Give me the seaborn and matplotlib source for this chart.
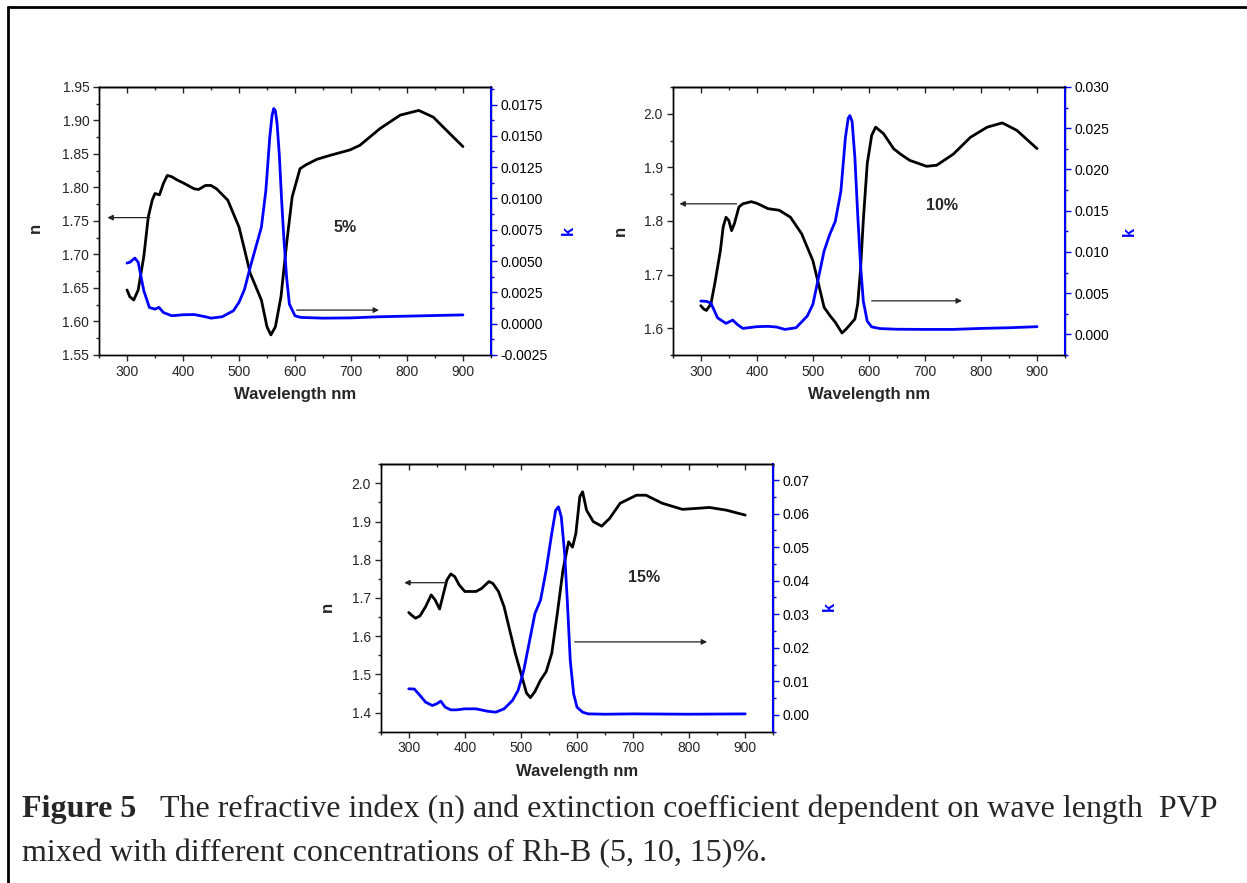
import numpy as np
import pandas as pd
import matplotlib
matplotlib.use("Agg")
import matplotlib.pyplot as plt
import seaborn as sns
from matplotlib.ticker import MultipleLocator, FormatStrFormatter

sns.set_style("white")
plt.rcParams['font.family'] = ['Liberation Sans', 'DejaVu Sans']

# ---------------- data ----------------
# 5 %
wl_n5 = [300, 305, 312, 320, 330, 338, 345, 350, 358, 365, 372, 380, 390, 400, 420, 428, 440, 450, 460, 480,
         500, 510, 520, 530, 540, 550, 557, 565, 575, 585, 595, 609, 620, 639, 663, 698, 716, 752, 788, 821, 847, 877, 900]
n5 = [1.647, 1.637, 1.632, 1.647, 1.697, 1.756, 1.781, 1.791, 1.789, 1.806, 1.818, 1.816, 1.811, 1.807, 1.798, 1.797,
      1.803, 1.803, 1.798, 1.781, 1.741, 1.707, 1.672, 1.652, 1.632, 1.592, 1.580, 1.592, 1.637, 1.716, 1.786, 1.828,
      1.834, 1.842, 1.848, 1.856, 1.863, 1.888, 1.908, 1.915, 1.905, 1.880, 1.861]
wl_k5 = [300, 305, 314, 320, 330, 340, 350, 357, 365, 380, 400, 420, 440, 450, 470, 490, 500, 510, 520, 530, 540,
         548, 555, 559, 562, 565, 568, 572, 576, 580, 585, 590, 600, 610, 650, 700, 750, 800, 850, 900]
k5 = [0.00484, 0.0049, 0.00524, 0.0049, 0.00263, 0.00129, 0.00116, 0.0013, 0.00089, 0.00063, 0.00071, 0.00073,
      0.00055, 0.00044, 0.00055, 0.00103, 0.0017, 0.00276, 0.0045, 0.0061, 0.0077, 0.01064, 0.01491, 0.0166,
      0.01718, 0.0170, 0.0160, 0.0135, 0.0100, 0.0069, 0.0037, 0.00156, 0.00063, 0.0005, 0.00044, 0.00046,
      0.00055, 0.0006, 0.00065, 0.0007]

# 10 %
wl_n10 = [300, 305, 310, 318, 325, 335, 340, 345, 350, 355, 360, 368, 375, 390, 400, 420, 440, 460, 480, 500, 510,
          520, 530, 540, 552, 560, 575, 580, 585, 590, 597, 605, 612, 626, 644, 656, 673, 703, 721, 751, 781, 811,
          838, 864, 900]
n10 = [1.642, 1.636, 1.633, 1.645, 1.683, 1.745, 1.789, 1.807, 1.801, 1.782, 1.795, 1.826, 1.832, 1.836, 1.833,
       1.823, 1.820, 1.807, 1.776, 1.726, 1.683, 1.639, 1.624, 1.611, 1.591, 1.599, 1.617, 1.645, 1.708, 1.801,
       1.907, 1.960, 1.975, 1.963, 1.935, 1.925, 1.913, 1.902, 1.904, 1.925, 1.956, 1.975, 1.983, 1.969, 1.935]
wl_k10 = [300, 310, 318, 330, 345, 357, 365, 375, 400, 420, 435, 450, 470, 490, 500, 510, 520, 530, 540, 550, 558,
          563, 566, 570, 575, 580, 585, 590, 597, 605, 620, 650, 700, 750, 800, 850, 900]
k10 = [0.00404, 0.0040, 0.0038, 0.0020, 0.00133, 0.00173, 0.00121, 0.00072, 0.00093, 0.00097, 0.00089, 0.0006,
       0.0008, 0.00222, 0.00363, 0.00686, 0.0101, 0.0121, 0.0137, 0.01736, 0.02382, 0.0262, 0.02653, 0.02584,
       0.0214, 0.01453, 0.00848, 0.00404, 0.00160, 0.0009, 0.0007, 0.00062, 0.0006, 0.0006, 0.00072, 0.0008,
       0.00093]

# 15 %
wl_n15 = [300, 305, 312, 320, 330, 340, 347, 355, 362, 368, 375, 382, 390, 400, 420, 430, 443, 450, 460, 470, 480,
          490, 500, 510, 517, 525, 535, 545, 555, 565, 575, 585, 592, 598, 605, 610, 617, 629, 644, 658, 677, 706,
          723, 752, 788, 818, 836, 866, 900]
n15 = [1.662, 1.655, 1.647, 1.653, 1.677, 1.708, 1.695, 1.671, 1.712, 1.747, 1.763, 1.756, 1.734, 1.717, 1.717,
       1.725, 1.743, 1.738, 1.717, 1.677, 1.616, 1.555, 1.503, 1.451, 1.439, 1.455, 1.485, 1.507, 1.555, 1.660,
       1.773, 1.847, 1.833, 1.869, 1.965, 1.978, 1.930, 1.900, 1.888, 1.908, 1.948, 1.969, 1.969, 1.948, 1.932,
       1.935, 1.937, 1.930, 1.917]
wl_k15 = [300, 310, 320, 330, 342, 350, 357, 365, 375, 385, 400, 420, 440, 455, 470, 485, 495, 505, 515, 525, 535,
          545, 555, 562, 567, 572, 578, 583, 588, 594, 600, 610, 620, 650, 700, 800, 900]
k15 = [0.00777, 0.0077, 0.0058, 0.0038, 0.0028, 0.0033, 0.0041, 0.0023, 0.0015, 0.0015, 0.0018, 0.0018, 0.0011,
       0.0008, 0.0018, 0.0043, 0.0073, 0.0132, 0.0217, 0.0302, 0.0342, 0.0431, 0.0541, 0.0610, 0.0620, 0.0590,
       0.0481, 0.0332, 0.0162, 0.0063, 0.0023, 0.0008, 0.0003, 0.0002, 0.0003, 0.0002, 0.0003]

labels = ["5%", "10%", "15%"]
x_label = "Wavelength nm"
caption_bold = "Figure 5"
caption_rest = "The refractive index (n) and extinction coefficient dependent on wave length  PVP"
caption_line2 = "mixed with different concentrations of Rh-B (5, 10, 15)%."

# ---------------- figure ----------------
fig = plt.figure(figsize=(12.47, 8.83), dpi=100)

panels = [
    dict(rect=[0.0794, 0.598, 0.3143, 0.3035], wn=wl_n5, n=n5, wk=wl_k5, k=k5,
         nlim=(1.55, 1.95), nmaj=0.05, nfmt="%.2f", klim=(-0.0025, 0.0189), kmaj=0.0025, kfmt="%.4f",
         lab=(689, 1.74), la=((341, 1.755), (265, 1.755)), ra=((603, 1.617), (750, 1.617)),
         nlc=(-0.143, 0.474), klc=(1.179, 0.466)),
    dict(rect=[0.5395, 0.598, 0.3146, 0.3035], wn=wl_n10, n=n10, wk=wl_k10, k=k10,
         nlim=(1.55, 2.05), nmaj=0.1, nfmt="%.1f", klim=(-0.0025, 0.030), kmaj=0.005, kfmt="%.3f",
         lab=(730, 1.828), la=((364, 1.832), (262, 1.832)), ra=((605, 1.651), (766, 1.651)),
         nlc=(-0.114, 0.464), klc=(1.146, 0.46)),
    dict(rect=[0.3053, 0.1714, 0.3148, 0.3028], wn=wl_n15, n=n15, wk=wl_k15, k=k15,
         nlim=(1.35, 2.05), nmaj=0.1, nfmt="%.1f", klim=(-0.005, 0.0747), kmaj=0.01, kfmt="%.2f",
         lab=(720, 1.753), la=((367, 1.74), (292, 1.74)), ra=((596, 1.585), (832, 1.585)),
         nlc=(-0.1155, 0.467), klc=(1.124, 0.467)),
]

tick_fs = 10
for i, p in enumerate(panels):
    ax = fig.add_axes(p["rect"])
    ax2 = ax.twinx()
    dfn = pd.DataFrame({"wl": p["wn"], "n": p["n"]})
    dfk = pd.DataFrame({"wl": p["wk"], "k": p["k"]})
    sns.lineplot(data=dfn, x="wl", y="n", ax=ax, color="black", lw=2.0, sort=False)
    sns.lineplot(data=dfk, x="wl", y="k", ax=ax2, color="#0000ff", lw=2.0, sort=False)

    ax.set_xlim(250, 950)
    ax.set_ylim(*p["nlim"])
    ax2.set_ylim(*p["klim"])
    ax.set_xticks([300, 400, 500, 600, 700, 800, 900])
    ax.xaxis.set_minor_locator(MultipleLocator(50))
    ax.yaxis.set_major_locator(MultipleLocator(p["nmaj"]))
    ax.yaxis.set_minor_locator(MultipleLocator(p["nmaj"] / 2))
    ax.yaxis.set_major_formatter(FormatStrFormatter(p["nfmt"]))
    ax2.yaxis.set_major_locator(MultipleLocator(p["kmaj"]))
    ax2.yaxis.set_minor_locator(MultipleLocator(p["kmaj"] / 2))
    ax2.yaxis.set_major_formatter(FormatStrFormatter(p["kfmt"]))

    for a in (ax, ax2):
        for s in a.spines.values():
            s.set_color("black")
            s.set_linewidth(1.0)
    ax2.spines["right"].set_color("#0000ff")
    ax2.spines["right"].set_linewidth(1.5)

    ax.tick_params(axis="both", which="major", direction="out", length=4, width=1, labelsize=tick_fs,
                   bottom=True, left=True, pad=3)
    ax.tick_params(axis="both", which="minor", direction="out", length=2.5, width=1,
                   bottom=True, left=True)
    ax2.tick_params(axis="y", which="major", direction="out", length=4, width=1, labelsize=tick_fs,
                    color="#0000ff", labelcolor="black", pad=3)
    ax2.tick_params(axis="y", which="minor", direction="out", length=2.5, width=1, color="#0000ff")

    # inward ticks on the top frame
    top = ax.secondary_xaxis("top")
    top.set_xticks([300, 400, 500, 600, 700, 800, 900])
    top.xaxis.set_minor_locator(MultipleLocator(50))
    top.tick_params(axis="x", which="major", direction="in", length=4, width=1, labeltop=False)
    top.tick_params(axis="x", which="minor", direction="in", length=2.5, width=1)
    top.spines["top"].set_linewidth(1.0)

    ax.set_xlabel(x_label, fontsize=12, fontweight="bold", labelpad=6)
    ax.set_ylabel("n", fontsize=12, fontweight="bold")
    ax.yaxis.set_label_coords(*p["nlc"])
    ax2.set_ylabel("k", fontsize=12, fontweight="bold", color="#0000ff")
    ax2.yaxis.set_label_coords(*p["klc"])
    ax.grid(False)
    ax2.grid(False)

    ax.text(p["lab"][0], p["lab"][1], labels[i], fontsize=11.5, fontweight="bold",
            ha="center", va="center")
    for (s, e) in (p["la"], p["ra"]):
        ax.annotate("", xy=e, xytext=s,
                    arrowprops=dict(arrowstyle="-|>", color="#222222", lw=0.9,
                                    mutation_scale=8, shrinkA=0, shrinkB=0))

# caption
cap_fs = 23
fig.text(22 / 1247, 1 - 817 / 883, caption_bold, fontsize=cap_fs, fontweight="bold",
         family=["Liberation Serif"], va="baseline", ha="left")
fig.text(160 / 1247, 1 - 817 / 883, caption_rest, fontsize=cap_fs,
         family=["Liberation Serif"], va="baseline", ha="left")
fig.text(22 / 1247, 1 - 861 / 883, caption_line2, fontsize=cap_fs,
         family=["Liberation Serif"], va="baseline", ha="left")

# frame lines
fig.add_artist(plt.Line2D([7.5 / 1247, 7.5 / 1247], [0, 1 - 7 / 883], color="black", lw=2,
                          transform=fig.transFigure))
fig.add_artist(plt.Line2D([7.5 / 1247, 1], [1 - 7 / 883, 1 - 7 / 883], color="black", lw=2,
                          transform=fig.transFigure))

fig.savefig("out.png", dpi=100)
